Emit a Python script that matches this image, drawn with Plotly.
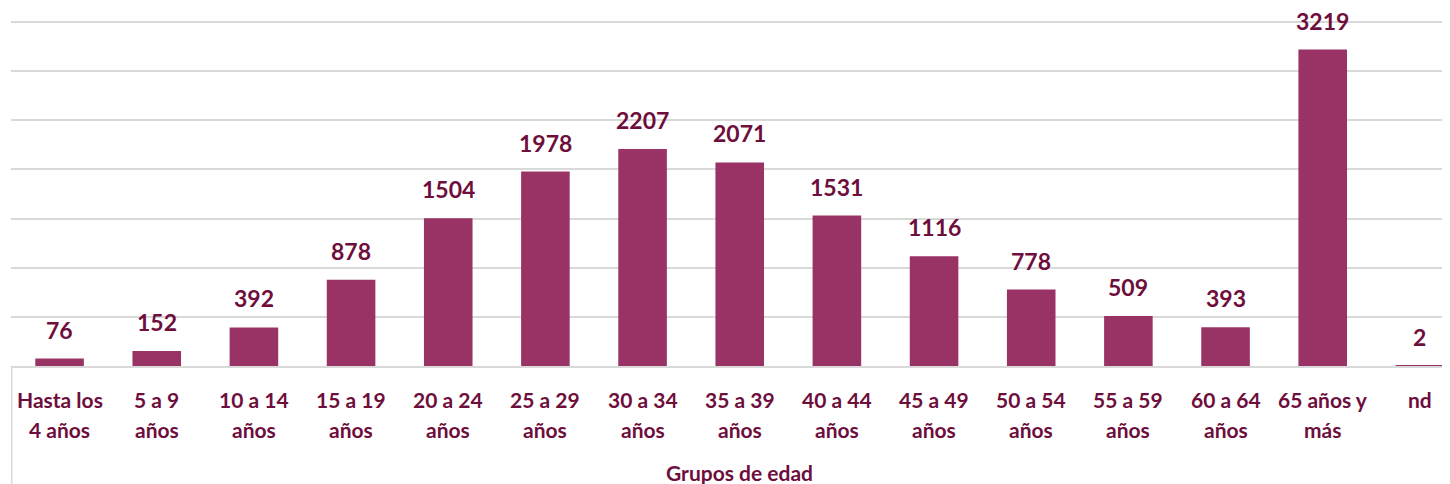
import plotly.graph_objects as go

categories = ["Hasta los<br>4 años", "5 a 9<br>años", "10 a 14<br>años", "15 a 19<br>años",
              "20 a 24<br>años", "25 a 29<br>años", "30 a 34<br>años", "35 a 39<br>años",
              "40 a 44<br>años", "45 a 49<br>años", "50 a 54<br>años", "55 a 59<br>años",
              "60 a 64<br>años", "65 años y<br>más", "nd"]
values = [76, 152, 392, 878, 1504, 1978, 2207, 2071, 1531, 1116, 778, 509, 393, 3219, 2]
axis_title = "Grupos de edad"

BAR = "#993366"
TXT = "#6E0E3C"
GRID = "#d9d9d9"
FONT = "Lato"

# page body has an 8px margin; compensate
W, H = 1442, 476
ML, MT, MB = 3, 12, 118

fig = go.Figure()
fig.add_trace(go.Bar(
    x=list(range(len(categories))), y=values,
    marker=dict(color=BAR, line=dict(width=0)),
    width=0.5, hoverinfo="skip",
))

# data labels
for i, v in enumerate(values):
    fig.add_annotation(x=i, y=v, xref="x", yref="y", text=f"<b>{v}</b>",
                       showarrow=False, yanchor="bottom", yshift=13,
                       font=dict(family=FONT, size=23, color=TXT))

# category labels (two lines, custom spacing)
for i, c in enumerate(categories):
    lines = c.split("<br>")
    for j, ln in enumerate(lines):
        fig.add_annotation(x=i, xref="x", yref="paper", y=0, yanchor="middle",
                           yshift=-(33 + 30 * j), text=f"<b>{ln}</b>", showarrow=False,
                           font=dict(family=FONT, size=21, color=TXT))

fig.add_annotation(x=(len(categories) - 1) / 2, xref="x", xanchor="center",
                   text=f"<b>{axis_title}</b>",
                   y=0, yref="paper", yanchor="middle", yshift=-106, showarrow=False,
                   font=dict(family=FONT, size=21, color=TXT))

# left divider line under the axis
fig.add_shape(type="line", xref="paper", yref="paper", x0=0.0005, x1=0.0005, y0=0, y1=-0.5,
              line=dict(color=GRID, width=1.5))

fig.update_layout(
    width=W, height=H,
    margin=dict(l=ML, r=0, t=MT, b=MB, pad=0),
    paper_bgcolor="white", plot_bgcolor="white",
    showlegend=False,
    xaxis=dict(range=[-0.5, 14.31], showticklabels=False, showgrid=False, zeroline=False,
               showline=True, linecolor=GRID, linewidth=1.5, layer="above traces", ticks=""),
    yaxis=dict(range=[0, 3520], tickvals=[0, 500, 1000, 1500, 2000, 2500, 3000, 3500],
               showticklabels=False, showgrid=True, gridcolor=GRID, gridwidth=1.5,
               zeroline=False, showline=False, ticks=""),
)

fig.write_html("out.html")
